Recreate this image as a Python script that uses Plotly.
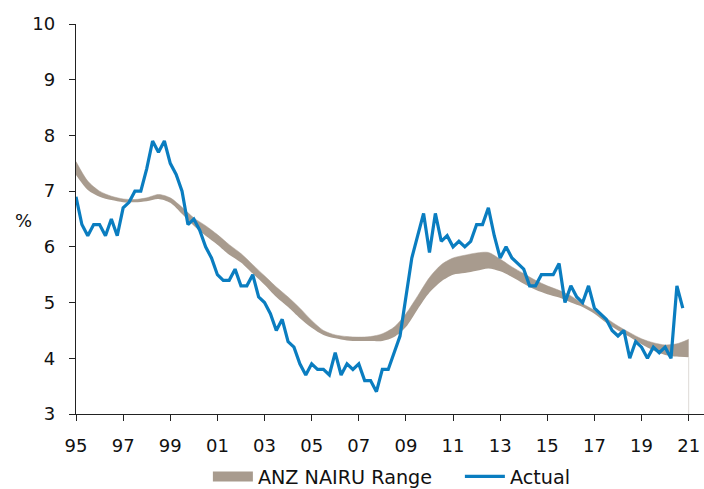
import plotly.graph_objects as go

# Quarterly unemployment rate (%), 1995Q1 .. 2020Q4
start_year = 1995
actual = [
    6.9, 6.4, 6.2, 6.4, 6.4, 6.2, 6.5, 6.2,   # 1995-1996
    6.7, 6.8, 7.0, 7.0, 7.4, 7.9, 7.7, 7.9,   # 1997-1998
    7.5, 7.3, 7.0, 6.4, 6.5, 6.3, 6.0, 5.8,   # 1999-2000
    5.5, 5.4, 5.4, 5.6, 5.3, 5.3, 5.5, 5.1,   # 2001-2002
    5.0, 4.8, 4.5, 4.7, 4.3, 4.2, 3.9, 3.7,   # 2003-2004
    3.9, 3.8, 3.8, 3.7, 4.1, 3.7, 3.9, 3.8,   # 2005-2006
    3.9, 3.6, 3.6, 3.4, 3.8, 3.8, 4.1, 4.4,   # 2007-2008
    5.1, 5.8, 6.2, 6.6, 5.9, 6.6, 6.1, 6.2,   # 2009-2010
    6.0, 6.1, 6.0, 6.1, 6.4, 6.4, 6.7, 6.2,   # 2011-2012
    5.8, 6.0, 5.8, 5.7, 5.6, 5.3, 5.3, 5.5,   # 2013-2014
    5.5, 5.5, 5.7, 5.0, 5.3, 5.1, 5.0, 5.3,   # 2015-2016
    4.9, 4.8, 4.7, 4.5, 4.4, 4.5, 4.0, 4.3,   # 2017-2018
    4.2, 4.0, 4.2, 4.1, 4.2, 4.0, 5.3, 4.9,   # 2019-2020
]

# ANZ NAIRU range: half-yearly lower / upper bounds (%)
band_year = [
    1995.0, 1995.5, 1996.0, 1996.5, 1997.0, 1997.5, 1998.0, 1998.5,
    1999.0, 1999.5, 2000.0, 2000.5, 2001.0, 2001.5, 2002.0, 2002.5,
    2003.0, 2003.5, 2004.0, 2004.5, 2005.0, 2005.5, 2006.0, 2006.5,
    2007.0, 2007.5, 2008.0, 2008.5, 2009.0, 2009.5, 2010.0, 2010.5,
    2011.0, 2011.5, 2012.0, 2012.5, 2013.0, 2013.5, 2014.0, 2014.5,
    2015.0, 2015.5, 2016.0, 2016.5, 2017.0, 2017.5, 2018.0, 2018.5,
    2019.0, 2019.5, 2020.0, 2020.5, 2021.0,
]
band_upper = [
    7.53, 7.18, 7.00, 6.91, 6.86, 6.85, 6.88, 6.94,
    6.88, 6.71, 6.52, 6.38, 6.22, 6.04, 5.88, 5.68,
    5.48, 5.28, 5.10, 4.90, 4.68, 4.50, 4.42, 4.39,
    4.38, 4.39, 4.44, 4.56, 4.80, 5.12, 5.45, 5.68,
    5.80, 5.85, 5.89, 5.90, 5.78, 5.64, 5.52, 5.40,
    5.30, 5.22, 5.12, 4.98, 4.86, 4.72, 4.58, 4.46,
    4.35, 4.28, 4.24, 4.26, 4.34,
]
band_lower = [
    7.29, 7.02, 6.90, 6.84, 6.80, 6.80, 6.82, 6.86,
    6.79, 6.59, 6.38, 6.20, 6.04, 5.86, 5.72, 5.52,
    5.32, 5.10, 4.92, 4.72, 4.55, 4.42, 4.36, 4.32,
    4.31, 4.31, 4.31, 4.38, 4.56, 4.88, 5.18, 5.38,
    5.50, 5.53, 5.57, 5.61, 5.56, 5.46, 5.34, 5.23,
    5.15, 5.09, 5.00, 4.92, 4.80, 4.64, 4.50, 4.38,
    4.25, 4.14, 4.06, 4.03, 4.02,
]

tick_years = list(range(1995, 2022, 2))
tick_text = ["95", "97", "99", "01", "03", "05", "07", "09",
             "11", "13", "15", "17", "19", "21"]

quarter_x = [start_year + i / 4 for i in range(len(actual))]

BAND = "#A89B8E"
BLUE = "#0A7DC0"
AXIS = "#222222"
FONT = "Verdana, DejaVu Sans, sans-serif"

fig = go.Figure()

# lower edge of the range (invisible), then the upper edge filled down to it
fig.add_trace(go.Scatter(
    x=band_year, y=band_lower, mode="lines",
    line=dict(width=0, color=BAND, shape="spline", smoothing=0.8),
    showlegend=False, hoverinfo="skip",
))
fig.add_trace(go.Scatter(
    x=band_year, y=band_upper, mode="lines", fill="tonexty",
    fillcolor=BAND,
    line=dict(width=0.5, color=BAND, shape="spline", smoothing=0.8),
    showlegend=False, hoverinfo="skip",
))
# faint edge where the range series ends
fig.add_trace(go.Scatter(
    x=[band_year[-1], band_year[-1]], y=[3, band_lower[-1]], mode="lines",
    line=dict(width=1, color="#DDDAD6"),
    showlegend=False, hoverinfo="skip",
))

# legend entries
fig.add_trace(go.Scatter(
    x=[None], y=[None], mode="lines", name="ANZ NAIRU Range",
    line=dict(width=10, color=BAND),
))
fig.add_trace(go.Scatter(
    x=quarter_x, y=actual, mode="lines", name="Actual",
    line=dict(width=3.2, color=BLUE),
))

fig.update_layout(
    width=704, height=489,
    margin=dict(l=76, r=0, t=24, b=75, autoexpand=False),
    paper_bgcolor="white", plot_bgcolor="white",
    font=dict(family=FONT, size=18, color="#111111"),
    legend=dict(
        orientation="h", traceorder="normal",
        x=0.21, xanchor="left",
        yref="paper", y=-0.16, yanchor="middle",
        font=dict(size=19.2), itemwidth=40, tracegroupgap=0,
        entrywidth=197, entrywidthmode="pixels",
        bgcolor="rgba(0,0,0,0)",
    ),
    annotations=[dict(
        text="%", xref="paper", yref="y", x=-0.084, y=6.48,
        showarrow=False, xanchor="center", yanchor="middle",
        font=dict(size=18),
    )],
)

fig.update_xaxes(
    range=[1995, 2021.65], tickmode="array",
    tickvals=tick_years, ticktext=tick_text,
    showline=True, linecolor=AXIS, linewidth=1.3,
    ticks="outside", ticklen=6, tickwidth=1.3, tickcolor=AXIS,
    showgrid=False, zeroline=False, ticklabelstandoff=9,
)
fig.update_yaxes(
    range=[3, 10], dtick=1, tick0=3,
    showline=True, linecolor=AXIS, linewidth=1.3,
    ticks="outside", ticklen=6, tickwidth=1.3, tickcolor=AXIS,
    showgrid=False, zeroline=False, ticklabelstandoff=10,
)

fig.write_html("out.html")
